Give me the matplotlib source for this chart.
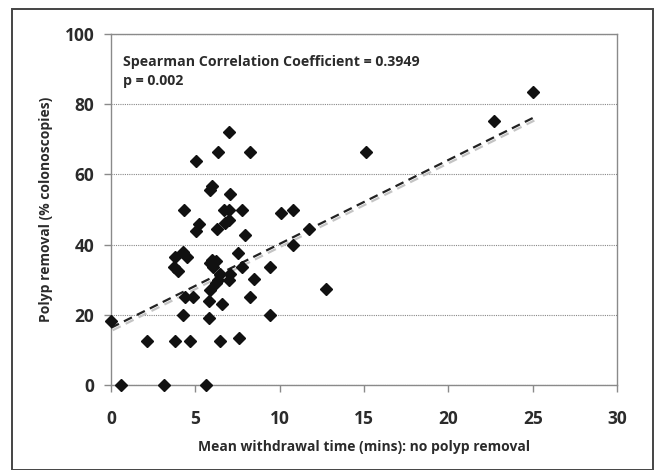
import numpy as np
import matplotlib
matplotlib.use("Agg")
import matplotlib.pyplot as plt
from matplotlib.patches import Rectangle

# Data
withdrawal_time = [0.0, 0.62, 2.12, 3.14, 3.82, 3.82, 3.74, 4.0, 4.26, 4.49,
                   4.31, 4.36, 4.26, 4.69, 4.89, 5.06, 5.01, 5.24, 5.61, 5.81,
                   5.81, 5.89, 5.86, 6.01, 5.86, 6.01, 6.06, 6.21, 6.26, 6.36,
                   6.23, 6.36, 6.48, 6.48, 6.61, 6.68, 6.78, 7.0, 7.0, 7.06,
                   6.98, 7.06, 7.0, 7.52, 7.6, 7.74, 7.77, 7.97, 8.25, 8.25,
                   8.48, 9.4, 9.4, 10.1, 10.8, 10.77, 11.72, 12.77, 15.11, 22.69,
                   25.0]
polyp_removal = [18.2, 0.0, 12.5, 0.0, 12.5, 36.4, 33.5, 32.5, 37.8, 36.4,
                 49.9, 25.0, 20.0, 12.5, 25.0, 63.7, 43.9, 45.8, 0.0, 19.0,
                 24.0, 27.1, 55.6, 56.6, 34.7, 35.6, 33.7, 35.2, 44.4, 66.5,
                 29.0, 29.9, 31.7, 12.5, 23.1, 49.9, 46.1, 72.0, 49.9, 54.5,
                 47.0, 31.7, 29.9, 37.5, 13.3, 33.5, 49.9, 42.8, 66.5, 25.0,
                 30.2, 33.5, 20.0, 49.0, 49.9, 39.9, 44.4, 27.3, 66.5, 75.1,
                 83.4]
# trend line as drawn in the reference
trend_intercept = 16.3
trend_slope = 2.39
trend_x = [0, 25]

x_ticks = [0, 5, 10, 15, 20, 25, 30]
y_ticks = [0, 20, 40, 60, 80, 100]
annotation = "Spearman Correlation Coefficient = 0.3949\np = 0.002"
x_label = "Mean withdrawal time (mins): no polyp removal"
y_label = "Polyp removal (% colonoscopies)"

plt.rcParams['font.family'] = ['Open Sans', 'DejaVu Sans']
text_color = "#2b2b2b"

fig = plt.figure(figsize=(6.59, 4.70), dpi=100)
ax = fig.add_axes([111/659, (470-385)/470, (617-111)/659, (385-34)/470])

# outer frame
fig.patches.append(Rectangle((12/659, 0.0), (653-12)/659, (470-9)/470,
                             transform=fig.transFigure, fill=False,
                             edgecolor="#444444", linewidth=1.4, zorder=0))

ax.set_xlim(0, 30)
ax.set_ylim(0, 100)
ax.set_xticks(x_ticks)
ax.set_yticks(y_ticks)
ax.set_xticklabels([str(t) for t in x_ticks])
ax.set_yticklabels([str(t) for t in y_ticks])
for s in ax.spines.values():
    s.set_color("#8a8a8a")
    s.set_linewidth(1.0)
ax.tick_params(axis='both', direction='out', length=5, width=1, color="#8a8a8a",
               labelsize=12.5, labelcolor=text_color, pad=7)
for lbl in ax.get_xticklabels() + ax.get_yticklabels():
    lbl.set_fontweight('bold')
ax.tick_params(axis='x', pad=13)

ax.yaxis.grid(True, linestyle=(0, (1, 1)), color="#888888", linewidth=0.8)
ax.set_axisbelow(True)

# trend line
xt = np.array(trend_x, dtype=float)
yt = trend_slope * xt + trend_intercept
ax.plot(xt + 0.1, yt - 0.7, color="#c4c4c4", linewidth=1.6,
        linestyle=(0, (4, 2.5)), zorder=2, clip_on=False)
ax.plot(xt, yt, color="#222222", linewidth=1.6,
        linestyle=(0, (4, 2.5)), zorder=3)

ax.plot(withdrawal_time, polyp_removal, linestyle='none', marker='D',
        markersize=6.2, color="#111111", zorder=4, clip_on=False)

ax.text(0.024, 0.94, annotation, transform=ax.transAxes, ha='left', va='top',
        fontsize=10.2, fontweight='bold', color=text_color, linespacing=1.45)

ax.set_xlabel(x_label, fontsize=10, color=text_color, fontweight='bold',
              labelpad=9)
ax.set_ylabel(y_label, fontsize=10, color=text_color, fontweight='bold',
              labelpad=8)

fig.savefig("out.png", dpi=100)
